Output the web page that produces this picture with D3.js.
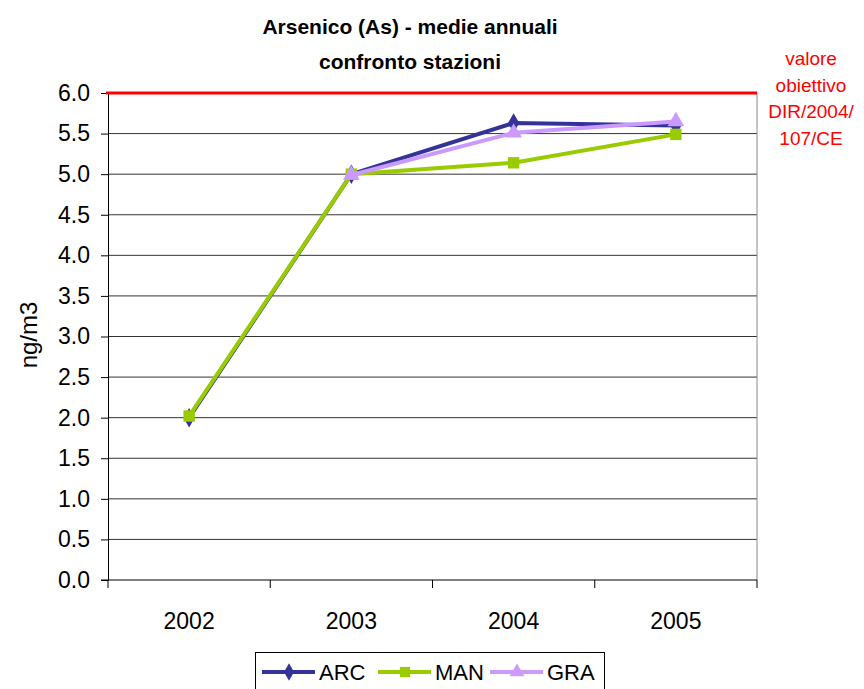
<!DOCTYPE html>
<html>
<head>
<meta charset="utf-8">
<script src="https://cdn.jsdelivr.net/npm/d3@7"></script>
<style>
  html, body { margin: 0; padding: 0; background: #fff; }
  svg { display: block; font-family: "Liberation Sans", Arial, sans-serif; }
</style>
</head>
<body>
<svg id="chart" width="864" height="689"></svg>
<script>
// Annual means of arsenic per station (null = no measurement that year)
const years = ["2002", "2003", "2004", "2005"];
const arc = [2.0, 5.0, 5.63, 5.6];
const man = [2.02, 5.0, 5.14, 5.49];
const gra = [null, 4.99, 5.51, 5.65];
const yTicks = [0, 0.5, 1, 1.5, 2, 2.5, 3, 3.5, 4, 4.5, 5, 5.5, 6];
const targetValue = 6.0;
const targetLabel = ["valore", "obiettivo", "DIR/2004/", "107/CE"];
const titleLines = ["Arsenico (As) - medie annuali", "confronto stazioni"];

const series = [
  { name: "ARC", values: arc, color: "#333399", symbol: d3.symbolDiamond, size: 110 },
  { name: "MAN", values: man, color: "#99CC00", symbol: d3.symbolSquare, size: 130 },
  { name: "GRA", values: gra, color: "#CC99FF", symbol: d3.symbolTriangle, size: 120 }
];

const svg = d3.select("#chart");
const m = { left: 108, right: 757, top: 93, bottom: 580 };

const x = d3.scaleBand().domain(years).range([m.left, m.right]);
const y = d3.scaleLinear().domain([0, 6]).range([m.bottom, m.top]);

// gridlines
svg.append("g").selectAll("line").data(yTicks.filter(t => t > 0)).join("line")
  .attr("x1", m.left).attr("x2", m.right)
  .attr("y1", d => y(d)).attr("y2", d => y(d))
  .attr("stroke", "#333").attr("stroke-width", 1);

// plot frame (right side)
svg.append("line").attr("x1", m.right).attr("x2", m.right)
  .attr("y1", m.top).attr("y2", m.bottom).attr("stroke", "#888").attr("stroke-width", 1);

// y axis
const yAxis = svg.append("g").attr("transform", `translate(${m.left},0)`)
  .call(d3.axisLeft(y).tickValues(yTicks).tickFormat(d3.format(".1f")).tickSize(7).tickSizeOuter(0));
yAxis.select(".domain").attr("stroke", "#000");
yAxis.selectAll(".tick line").attr("stroke", "#000");
yAxis.selectAll(".tick text").attr("font-size", 23).attr("fill", "#000")
  .attr("font-family", "Liberation Sans, Arial, sans-serif").attr("x", -18);

// x axis
const xAxis = svg.append("g").attr("transform", `translate(0,${m.bottom})`);
xAxis.append("line").attr("x1", m.left - 7).attr("x2", m.right)
  .attr("stroke", "#000");
const bounds = years.map(d => x(d)).concat([m.right]);
xAxis.selectAll("line.tk").data(bounds).join("line").attr("class", "tk")
  .attr("x1", d => d).attr("x2", d => d).attr("y1", 0).attr("y2", 8).attr("stroke", "#000");
xAxis.selectAll("text").data(years).join("text")
  .attr("x", d => x(d) + x.bandwidth() / 2).attr("y", 49)
  .attr("text-anchor", "middle").attr("font-size", 23).text(d => d);

// target line
svg.append("line").attr("x1", m.left - 2).attr("x2", m.right)
  .attr("y1", y(targetValue)).attr("y2", y(targetValue))
  .attr("stroke", "#FF0000").attr("stroke-width", 3);

svg.append("text").attr("x", 811).attr("y", 65).attr("text-anchor", "middle")
  .attr("font-size", 19).attr("fill", "#FF0000")
  .selectAll("tspan").data(targetLabel).join("tspan")
  .attr("x", 811).attr("dy", (d, i) => i === 0 ? 0 : 26.5).text(d => d);

// series lines and markers
const cx = (i) => x(years[i]) + x.bandwidth() / 2;
const line = d3.line().defined(d => d != null).x((d, i) => cx(i)).y(d => y(d));
series.forEach(s => {
  svg.append("path").datum(s.values).attr("d", line)
    .attr("fill", "none").attr("stroke", s.color).attr("stroke-width", 4);
  const pts = s.values.map((v, i) => ({ v, i })).filter(p => p.v != null);
  svg.append("g").selectAll("path").data(pts).join("path")
    .attr("transform", p => `translate(${cx(p.i)},${y(p.v)})`)
    .attr("d", d3.symbol(s.symbol, s.size)).attr("fill", s.color);
});

// title
svg.append("text").attr("text-anchor", "middle").attr("font-weight", "bold").attr("font-size", 21)
  .selectAll("tspan").data(titleLines).join("tspan")
  .attr("x", 410).attr("y", (d, i) => 34 + i * 35).text(d => d);

// y axis title
svg.append("text").attr("transform", "translate(37,335) rotate(-90)")
  .attr("text-anchor", "middle").attr("font-size", 24).text("ng/m3");

// legend
const lg = svg.append("g");
lg.append("rect").attr("x", 255.5).attr("y", 652.5).attr("width", 349).attr("height", 40)
  .attr("fill", "#fff").attr("stroke", "#000");
const lx = [262, 378, 490];
series.forEach((s, i) => {
  const g = lg.append("g").attr("transform", `translate(${lx[i]},672)`);
  g.append("line").attr("x1", 0).attr("x2", 53).attr("stroke", s.color).attr("stroke-width", 4);
  g.append("path").attr("transform", "translate(27,0)")
    .attr("d", d3.symbol(s.symbol, s.size * 0.8)).attr("fill", s.color);
  g.append("text").attr("x", 57).attr("y", 8).attr("font-size", 22).text(s.name);
});
</script>
</body>
</html>
